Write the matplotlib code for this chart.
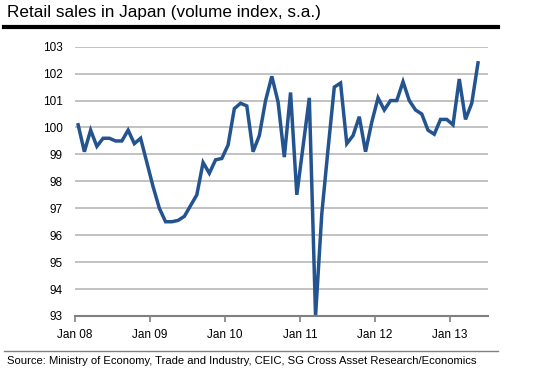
import numpy as np
import matplotlib.pyplot as plt
from matplotlib.lines import Line2D

plt.rcParams['font.family'] = ['Liberation Sans', 'DejaVu Sans']

# monthly index, Jan 2008 .. May 2013
values = [100.1, 99.1, 99.9, 99.3, 99.6, 99.6, 99.5, 99.5, 99.9, 99.4, 99.6, 98.7,
          97.8, 97.0, 96.5, 96.5, 96.55, 96.7, 97.1, 97.5, 98.7, 98.3, 98.8, 98.85,
          99.35, 100.7, 100.9, 100.8, 99.1, 99.7, 101.0, 101.9, 100.95, 98.9, 101.3, 97.5,
          99.3, 101.1, 93.0, 96.8, 99.2, 101.5, 101.65, 99.4, 99.7, 100.4, 99.1, 100.2,
          101.1, 100.65, 101.0, 101.0, 101.7, 101.0, 100.65, 100.5, 99.9, 99.75, 100.3, 100.3,
          100.1, 101.8, 100.3, 100.9, 102.4]
tick_months = [0, 12, 24, 36, 48, 60]
tick_labels = ['Jan 08', 'Jan 09', 'Jan 10', 'Jan 11', 'Jan 12', 'Jan 13']
y_ticks = list(range(93, 104))

fig = plt.figure(figsize=(5.34, 3.8), dpi=100)
ax = fig.add_axes([75 / 534, 1 - 316 / 380, 413 / 534, 269.3 / 380])

months = np.arange(len(values)) + 0.5
ax.plot(months, values, color='#24548f', lw=2.5, solid_joinstyle='miter', zorder=3)

ax.set_xlim(0, 66.1)
ax.set_ylim(93, 103)
ax.set_yticks(y_ticks)
ax.set_yticklabels([str(v) for v in y_ticks], fontsize=8.5)
ax.set_xticks(tick_months)
ax.set_xticklabels(tick_labels, fontsize=8.5)
ax.tick_params(axis='y', length=0, pad=9)
ax.tick_params(axis='x', direction='out', length=4, width=1.2, color='#808080', pad=5)
ax.yaxis.grid(True, color='#bdbdbd', lw=1.3)
ax.set_axisbelow(True)
for s in ['top', 'right', 'left']:
    ax.spines[s].set_visible(False)
ax.spines['bottom'].set_color('#808080')
ax.spines['bottom'].set_linewidth(1.5)
ax.spines['bottom'].set_zorder(4)

fig.text(7 / 534, 1 - 13 / 380, 'Retail sales in Japan (volume index, s.a.)',
         fontsize=12.3, va='center', ha='left')
fig.add_artist(Line2D([4 / 534, 498 / 534], [1 - 26.5 / 380] * 2, color='black', lw=3))
fig.add_artist(Line2D([4 / 534, 498 / 534], [1 - 350.5 / 380] * 2, color='#808080', lw=1))
fig.text(7 / 534, 1 - 361 / 380,
         'Source: Ministry of Economy, Trade and Industry, CEIC, SG Cross Asset Research/Economics',
         fontsize=8.15, va='center', ha='left')

fig.savefig('out.png', dpi=100)
